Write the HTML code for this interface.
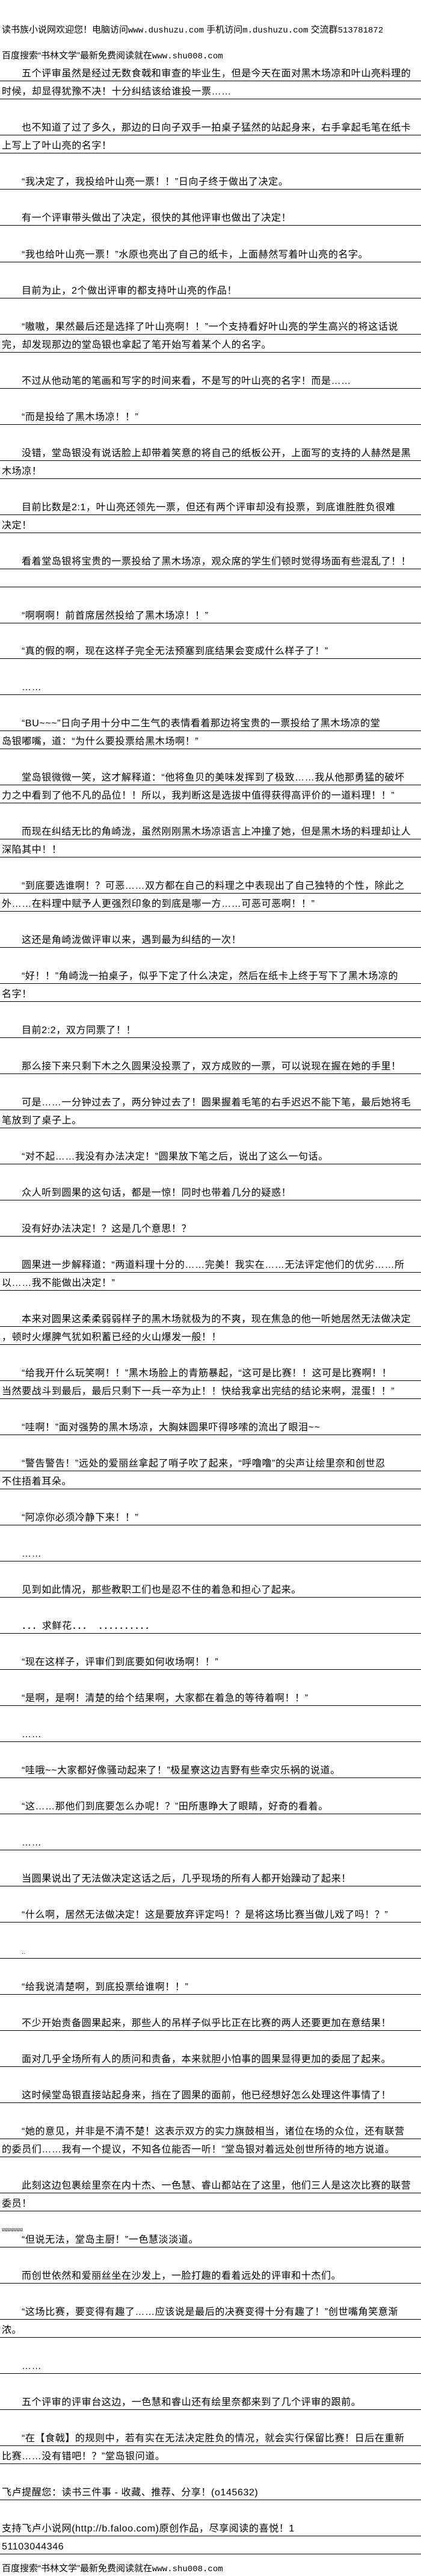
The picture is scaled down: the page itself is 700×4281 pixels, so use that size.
<!DOCTYPE html>
<html><head><meta charset="utf-8">
<style>
html,body{margin:0;padding:0;background:#fff;}
body{position:relative;width:700px;height:4281px;overflow:hidden;font-family:"Liberation Sans","Noto Sans CJK SC",sans-serif;color:#000;}
.l{position:absolute;left:0;width:700px;height:22px;line-height:22px;border-bottom:1px solid #000;font-size:16px;letter-spacing:0.6px;white-space:nowrap;overflow:hidden;box-sizing:content-box;}
.i{padding-left:36px;width:664px;}
.n{padding-left:3px;width:697px;}
.h{position:absolute;left:3px;font-size:15px;line-height:20px;white-space:nowrap;}
.m{font-family:"Liberation Mono",monospace;font-size:14px;}
</style></head><body>
<div class="h" style="top:40px">读书族小说网欢迎您！电脑访问<span class="m">www.dushuzu.com</span> 手机访问<span class="m">m.dushuzu.com</span> 交流群<span class="m">513781872</span></div>
<div class="h" style="top:83px">百度搜索“书林文学”最新免费阅读就在<span class="m">www.shu008.com</span></div>

<div class="l i" style="top:112px">五个评审虽然是经过无数食戟和审查的毕业生，但是今天在面对黑木场凉和叶山亮料理的</div>
<div class="l n" style="top:142px">时候，却显得犹豫不决！十分纠结该给谁投一票……</div>
<div class="l i" style="top:202px">也不知道了过了多久，那边的日向子双手一拍桌子猛然的站起身来，右手拿起毛笔在纸卡</div>
<div class="l n" style="top:232px">上写上了叶山亮的名字！</div>
<div class="l i" style="top:292px">“我决定了，我投给叶山亮一票！！”日向子终于做出了决定。</div>
<div class="l i" style="top:352px">有一个评审带头做出了决定，很快的其他评审也做出了决定！</div>
<div class="l i" style="top:413px">“我也给叶山亮一票！”水原也亮出了自己的纸卡，上面赫然写着叶山亮的名字。</div>
<div class="l i" style="top:473px">目前为止，2个做出评审的都支持叶山亮的作品！</div>
<div class="l i" style="top:533px">“嗷嗷，果然最后还是选择了叶山亮啊！！”一个支持看好叶山亮的学生高兴的将这话说</div>
<div class="l n" style="top:563px">完，却发现那边的堂岛银也拿起了笔开始写着某个人的名字。</div>
<div class="l i" style="top:623px">不过从他动笔的笔画和写字的时间来看，不是写的叶山亮的名字！而是……</div>
<div class="l i" style="top:683px">“而是投给了黑木场凉！！”</div>
<div class="l i" style="top:743px">没错，堂岛银没有说话脸上却带着笑意的将自己的纸板公开，上面写的支持的人赫然是黑</div>
<div class="l n" style="top:773px">木场凉！</div>
<div class="l i" style="top:833px">目前比数是2:1，叶山亮还领先一票，但还有两个评审却没有投票，到底谁胜胜负很难</div>
<div class="l n" style="top:863px">决定！</div>
<div class="l i" style="top:923px">看着堂岛银将宝贵的一票投给了黑木场凉，观众席的学生们顿时觉得场面有些混乱了！！</div>
<div class="l n" style="top:953px"></div>
<div class="l i" style="top:1013px">“啊啊啊！前首席居然投给了黑木场凉！！”</div>
<div class="l i" style="top:1072px">“真的假的啊，现在这样子完全无法预塞到底结果会变成什么样子了！”</div>
<div class="l i" style="top:1132px">……</div>
<div class="l i" style="top:1192px">“BU~~~”日向子用十分中二生气的表情看着那边将宝贵的一票投给了黑木场凉的堂</div>
<div class="l n" style="top:1222px">岛银嘟嘴，道：“为什么要投票给黑木场啊！”</div>
<div class="l i" style="top:1282px">堂岛银微微一笑，这才解释道：“他将鱼贝的美味发挥到了极致……我从他那勇猛的破坏</div>
<div class="l n" style="top:1312px">力之中看到了他不凡的品位！！所以，我判断这是选拔中值得获得高评价的一道料理！！”</div>
<div class="l i" style="top:1372px">而现在纠结无比的角崎泷，虽然刚刚黑木场凉语言上冲撞了她，但是黑木场的料理却让人</div>
<div class="l n" style="top:1402px">深陷其中！！</div>
<div class="l i" style="top:1462px">“到底要选谁啊！？可恶……双方都在自己的料理之中表现出了自己独特的个性，除此之</div>
<div class="l n" style="top:1492px">外……在料理中赋予人更强烈印象的到底是哪一方……可恶可恶啊！！”</div>
<div class="l i" style="top:1552px">这还是角崎泷做评审以来，遇到最为纠结的一次！</div>
<div class="l i" style="top:1612px">“好！！”角崎泷一拍桌子，似乎下定了什么决定，然后在纸卡上终于写下了黑木场凉的</div>
<div class="l n" style="top:1642px">名字！</div>
<div class="l i" style="top:1702px">目前2:2，双方同票了！！</div>
<div class="l i" style="top:1762px">那么接下来只剩下木之久圆果没投票了，双方成败的一票，可以说现在握在她的手里！</div>
<div class="l i" style="top:1822px">可是……一分钟过去了，两分钟过去了！圆果握着毛笔的右手迟迟不能下笔，最后她将毛</div>
<div class="l n" style="top:1852px">笔放到了桌子上。</div>
<div class="l i" style="top:1912px">“对不起……我没有办法决定！”圆果放下笔之后，说出了这么一句话。</div>
<div class="l i" style="top:1972px">众人听到圆果的这句话，都是一惊！同时也带着几分的疑惑！</div>
<div class="l i" style="top:2032px">没有好办法决定！？这是几个意思！？</div>
<div class="l i" style="top:2092px">圆果进一步解释道：“两道料理十分的……完美！我实在……无法评定他们的优劣……所</div>
<div class="l n" style="top:2122px">以……我不能做出决定！”</div>
<div class="l i" style="top:2182px">本来对圆果这柔柔弱弱样子的黑木场就极为的不爽，现在焦急的他一听她居然无法做决定</div>
<div class="l n" style="top:2212px">，顿时火爆脾气犹如积蓄已经的火山爆发一般！！</div>
<div class="l i" style="top:2272px">“给我开什么玩笑啊！！”黑木场脸上的青筋暴起，“这可是比赛！！这可是比赛啊！！</div>
<div class="l n" style="top:2302px">当然要战斗到最后，最后只剩下一兵一卒为止！！快给我拿出完结的结论来啊，混蛋！！”</div>
<div class="l i" style="top:2362px">“哇啊！”面对强势的黑木场凉，大胸妹圆果吓得哆嗦的流出了眼泪~~</div>
<div class="l i" style="top:2422px">“警告警告！”远处的爱丽丝拿起了哨子吹了起来，“呼噜噜”的尖声让绘里奈和创世忍</div>
<div class="l n" style="top:2452px">不住捂着耳朵。</div>
<div class="l i" style="top:2512px">“阿凉你必须冷静下来！！”</div>
<div class="l i" style="top:2572px">……</div>
<div class="l i" style="top:2632px">见到如此情况，那些教职工们也是忍不住的着急和担心了起来。</div>
<div class="l i" style="top:2692px">．．．求鲜花．．．&nbsp;&nbsp;．．．．．．．．．．</div>
<div class="l i" style="top:2752px">“现在这样子，评审们到底要如何收场啊！！”</div>
<div class="l i" style="top:2812px">“是啊，是啊！清楚的给个结果啊，大家都在着急的等待着啊！！”</div>
<div class="l i" style="top:2872px">……</div>
<div class="l i" style="top:2932px">“哇哦~~大家都好像骚动起来了！”极星寮这边吉野有些幸灾乐祸的说道。</div>
<div class="l i" style="top:2992px">“这……那他们到底要怎么办呢！？”田所惠睁大了眼睛，好奇的看着。</div>
<div class="l i" style="top:3052px">……</div>
<div class="l i" style="top:3112px">当圆果说出了无法做决定这话之后，几乎现场的所有人都开始躁动了起来！</div>
<div class="l i" style="top:3172px">“什么啊，居然无法做决定！这是要放弃评定吗！？是将这场比赛当做儿戏了吗！？”</div>
<div class="l i" style="top:3232px" ><span style="font-size:10px">..</span></div>
<div class="l i" style="top:3292px">“给我说清楚啊，到底投票给谁啊！！”</div>
<div class="l i" style="top:3352px">不少开始责备圆果起来，那些人的吊样子似乎比正在比赛的两人还要更加在意结果！</div>
<div class="l i" style="top:3412px">面对几乎全场所有人的质问和责备，本来就胆小怕事的圆果显得更加的委屈了起来。</div>
<div class="l i" style="top:3472px">这时候堂岛银直接站起身来，挡在了圆果的面前，他已经想好怎么处理这件事情了！</div>
<div class="l i" style="top:3532px">“她的意见，并非是不清不楚！这表示双方的实力旗鼓相当，诸位在场的众位，还有联营</div>
<div class="l n" style="top:3562px">的委员们……我有一个提议，不知各位能否一听！”堂岛银对着远处创世所待的地方说道。</div>
<div class="l i" style="top:3622px">此刻这边包裹绘里奈在内十杰、一色慧、睿山都站在了这里，他们三人是这次比赛的联营</div>
<div class="l n" style="top:3652px">委员！</div>
<div class="h" style="top:3700px;font-size:10px;line-height:12px;font-family:'Liberation Serif',serif">uuuuuuu</div>
<div class="l i" style="top:3712px">“但说无法，堂岛主厨！”一色慧淡淡道。</div>
<div class="l i" style="top:3772px">而创世依然和爱丽丝坐在沙发上，一脸打趣的看着远处的评审和十杰们。</div>
<div class="l i" style="top:3832px">“这场比赛，要变得有趣了……应该说是最后的决赛变得十分有趣了！”创世嘴角笑意渐</div>
<div class="l n" style="top:3862px">浓。</div>
<div class="l i" style="top:3922px">……</div>
<div class="l i" style="top:3982px">五个评审的评审台这边，一色慧和睿山还有绘里奈都来到了几个评审的跟前。</div>
<div class="l i" style="top:4042px">“在【食戟】的规则中，若有实在无法决定胜负的情况，就会实行保留比赛！日后在重新</div>
<div class="l n" style="top:4072px">比赛……没有错吧！？”堂岛银问道。</div>
<div class="l n" style="top:4132px">飞卢提醒您：读书三件事 - 收藏、推荐、分享！(o145632)</div>
<div class="l n" style="top:4192px">支持飞卢小说网(http://b.faloo.com)原创作品，尽享阅读的喜悦！1</div>
<div class="l n" style="top:4222px">51103044346</div>
<div class="h" style="top:4259px">百度搜索“书林文学”最新免费阅读就在<span class="m">www.shu008.com</span></div>
</body></html>
